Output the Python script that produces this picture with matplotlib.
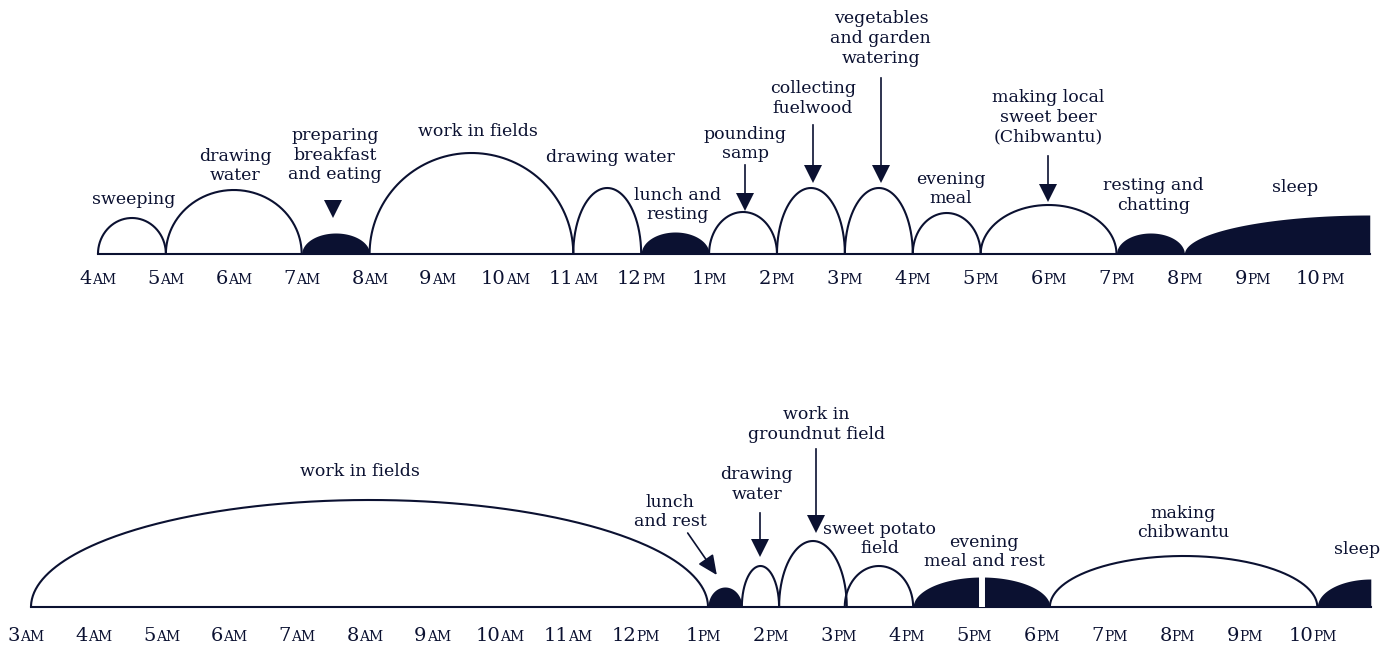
import numpy as np
import matplotlib.pyplot as plt
from matplotlib.offsetbox import TextArea, HPacker, AnnotationBbox

INK = "#0b1131"
FONT = "DejaVu Serif"

# -----------------------------
# Data — top day (hours, 24h clock; heights are relative arc heights)
# -----------------------------
top_start = [4, 5, 7, 8, 11, 12, 13, 14, 15, 16, 17, 19]
top_end = [5, 7, 8, 11, 12, 13, 14, 15, 16, 17, 19, 20]
top_height = [36, 64, 21, 101, 66, 22, 42, 66, 66, 41, 49, 21]
top_filled = [False, False, True, False, False, True, False, False, False, False, False, True]
top_sleep = [20, 22.73, 39]
top_hours = list(range(4, 23))

top_labels = ["sweeping", "drawing\nwater", "preparing\nbreakfast\nand eating",
              "work in fields", "drawing water", "lunch and\nresting",
              "pounding\nsamp", "collecting\nfuelwood", "vegetables\nand garden\nwatering",
              "evening\nmeal", "making local\nsweet beer\n(Chibwantu)",
              "resting and\nchatting", "sleep"]
top_arrow_x = [13.53, 14.53, 15.53, 17.99]
top_marker_x = [7.46]

# -----------------------------
# Data — bottom day
# -----------------------------
bot_start = [3, 13, 13.5, 14.05, 15.02, 16.03, 18.05]
bot_end = [13, 13.5, 14.05, 15.05, 16.03, 18.05, 22]
bot_height = [107, 20, 41, 66, 41, 30, 51]
bot_filled = [False, True, False, False, False, True, False]
bot_sleep = [22, 22.79, 28]
bot_gap = 17.05
bot_hours = list(range(3, 23))

bot_labels = ["work in fields", "lunch\nand rest", "drawing\nwater",
              "work in\ngroundnut field", "sweet potato\nfield",
              "evening\nmeal and rest", "making\nchibwantu", "sleep"]
bot_arrow_x = [13.77, 14.60]

# -----------------------------
# Layout (positions only)
# -----------------------------
top_label_xy = [(4.52, 54), (6.02, 88), (7.49, 99), (9.60, 122), (11.54, 97),
                (12.53, 49), (13.53, 110), (14.53, 155.5), (15.53, 215.5),
                (16.56, 65), (17.99, 137), (19.54, 58.5), (21.63, 67)]
top_arrow_y = [(89, 44), (129, 72), (176, 72), (98, 53)]
top_marker_y = [37]

bot_label_xy = [(7.86, 136), (12.44, 95), (13.72, 122.5), (14.60, 182.5),
                (15.54, 68), (17.08, 55), (20.02, 84), (22.59, 57)]
bot_arrow_y = [(94, 51), (158, 75)]
bot_diag = ((12.70, 74), (13.13, 32))


def half_arc(ax, x0, x1, h, filled):
    t = np.linspace(0, np.pi, 300)
    x = (x0 + x1) / 2 - (x1 - x0) / 2 * np.cos(t)
    y = h * np.sin(t)
    if filled:
        ax.fill_between(x, 0, y, color=INK, lw=0, zorder=3)
    else:
        ax.plot(x, y, color=INK, lw=1.5, zorder=3, solid_capstyle="butt")


def quarter_arc(ax, x0, x1, h):
    t = np.linspace(0, np.pi / 2, 200)
    x = x1 - (x1 - x0) * np.cos(t)
    y = h * np.sin(t)
    ax.fill_between(x, 0, y, color=INK, lw=0, zorder=3)


def hour_label(ax, hour, y, dx=0.0):
    h12 = hour % 12 or 12
    suffix = "AM" if hour < 12 else "PM"
    num = TextArea(str(h12), textprops=dict(fontsize=14, color=INK, family=FONT))
    suf = TextArea(suffix, textprops=dict(fontsize=10, color=INK, family=FONT))
    box = HPacker(children=[num, suf], align="baseline", pad=0, sep=0)
    ab = AnnotationBbox(box, (hour + dx, y), xycoords="data", frameon=False,
                        box_alignment=(0.5, 0.5), pad=0)
    ax.add_artist(ab)


def down_arrow(ax, x, y0, y1):
    ax.plot([x, x], [y0, y1 + 10], color=INK, lw=1.2, zorder=4)
    ax.plot([x], [y1 + 8.5], marker="v", markersize=12.5, color=INK,
            markeredgewidth=0, zorder=4)


fig = plt.figure(figsize=(13.93, 6.5), dpi=100)

# -----------------------------
# Top chart
# -----------------------------
ax1 = fig.add_axes([0, 350 / 650, 1, 300 / 650])
ax1.set_xlim(2.557, 2.557 + 1393 / 67.9)
ax1.set_ylim(-46, 254)
ax1.axis("off")

ax1.plot([top_start[0], top_sleep[1]], [0, 0], color=INK, lw=1.5, zorder=2)
for s, e, h, f in zip(top_start, top_end, top_height, top_filled):
    half_arc(ax1, s, e, h, f)
quarter_arc(ax1, *top_sleep)

for txt, (x, y) in zip(top_labels, top_label_xy):
    ax1.text(x, y, txt, ha="center", va="center", fontsize=12.5, color=INK,
             family=FONT, linespacing=1.22, multialignment="center")
for x, (y0, y1) in zip(top_arrow_x, top_arrow_y):
    down_arrow(ax1, x, y0, y1)
for x, y in zip(top_marker_x, top_marker_y):
    ax1.plot([x], [y + 8.5], marker="v", markersize=12.5, color=INK,
             markeredgewidth=0, zorder=4)
for hr in top_hours:
    hour_label(ax1, hr, -25.5)

# -----------------------------
# Bottom chart
# -----------------------------
ax2 = fig.add_axes([0, 0, 1, 320 / 650])
ax2.set_xlim(2.542, 2.542 + 1393 / 67.7)
ax2.set_ylim(-43, 277)
ax2.axis("off")

ax2.plot([bot_start[0], bot_sleep[1]], [0, 0], color=INK, lw=1.5, zorder=2)
for s, e, h, f in zip(bot_start, bot_end, bot_height, bot_filled):
    half_arc(ax2, s, e, h, f)
quarter_arc(ax2, *bot_sleep)
ax2.plot([bot_gap, bot_gap], [0, 32], color="white", lw=4.3, zorder=4,
         solid_capstyle="butt")

for txt, (x, y) in zip(bot_labels, bot_label_xy):
    ax2.text(x, y, txt, ha="center", va="center", fontsize=12.5, color=INK,
             family=FONT, linespacing=1.22, multialignment="center")
for x, (y0, y1) in zip(bot_arrow_x, bot_arrow_y):
    down_arrow(ax2, x, y0, y1)
ax2.annotate("", xy=bot_diag[1], xytext=bot_diag[0],
             arrowprops=dict(arrowstyle="-|>,head_length=1.2,head_width=0.55",
                             color=INK, lw=1.2, mutation_scale=10,
                             shrinkA=0, shrinkB=0))
for hr in bot_hours:
    hour_label(ax2, hr, -29, dx=-0.07)

fig.savefig("out.png", dpi=100, facecolor="white")
